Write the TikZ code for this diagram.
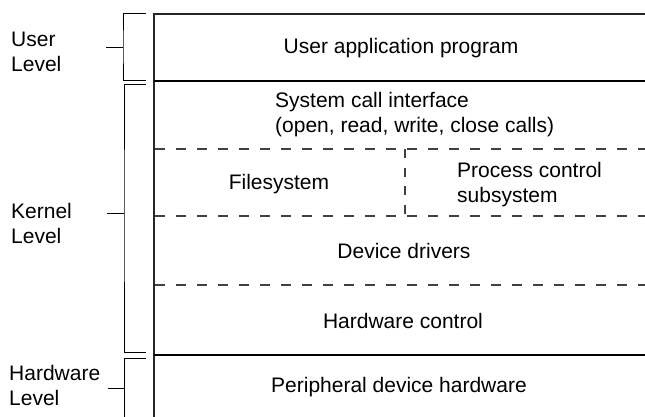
\documentclass[tikz,border=0pt]{standalone}
\usepackage{fontspec}
\setmainfont{Liberation Sans}
\begin{document}
\begin{tikzpicture}[x=1pt,y=-1pt,
  lbl/.style={font=\fontsize{21}{25}\selectfont, inner sep=0pt, align=center},
  lbll/.style={lbl, align=left},
  boxline/.style={line width=1.4pt, black!85},
  thickline/.style={line width=2pt, black},
  dashline/.style={line width=1.2pt, black!75, dash pattern=on 10pt off 11pt},
  vdashline/.style={line width=1.1pt, black!75, dash pattern=on 9pt off 9.5pt},
  bracket/.style={line width=1pt, black}]
\useasboundingbox (0,0) rectangle (645,416);
% frame coordinates
\coordinate (TL) at (154,14);  \coordinate (TR) at (650,14);
\coordinate (BL) at (154,420);
\coordinate (UL) at (154,81);  \coordinate (UR) at (650,81);
\coordinate (HL) at (154,355); \coordinate (HR) at (650,355);
\coordinate (D1L) at (155,149); \coordinate (D1R) at (650,149);
\coordinate (D2L) at (155,216); \coordinate (D2R) at (650,216);
\coordinate (D3L) at (155,285); \coordinate (D3R) at (650,285);
\coordinate (VT) at (405,149);  \coordinate (VB) at (405,216);
% frame
\draw[boxline] (TR) -- (TL) -- (BL);
\draw[thickline] (UL) -- (UR);
\draw[line width=1.7pt] (HL) -- (HR);
\draw[dashline] (D1L) -- (D1R);
\draw[dashline] (D2L) -- (D2R);
\draw[dashline] (D3L) -- (D3R);
\draw[vdashline] (VT) -- (VB);
% brackets
\coordinate (u1) at (146,13);  \coordinate (u2) at (146,80);
\coordinate (um) at (106,47);  \coordinate (uc) at (123,47);
\coordinate (k1) at (146,84);  \coordinate (k2) at (146,352);
\coordinate (km) at (107,213); \coordinate (kc) at (124,213);
\coordinate (h1) at (146,358); \coordinate (h2) at (124,420);
\coordinate (hm) at (108,388); \coordinate (hc) at (124,388);
\draw[bracket] (u1) -| (uc) |- (u2);
\draw[bracket] (um) -- (uc);
\draw[bracket] (k1) -| (kc) |- (k2);
\draw[bracket] (km) -- (kc);
\draw[bracket] (h1) -| (h2);
\draw[bracket] (hm) -- (hc);
% texts
\node[lbl] (app) at (401,48) {User application program};
\node[lbll, anchor=west] (sys) at (275,115) {System call interface\\(open, read, write, close calls)};
\node[lbl] (fs) at (279,184) {Filesystem};
\node[lbll, anchor=west] (pc) at (457,185) {Process control\\subsystem};
\node[lbl] (dd) at (404,251) {Device drivers};
\node[lbl] (hc) at (403,321) {Hardware control};
\node[lbl] (pd) at (399,387) {Peripheral device hardware};
\node[lbll, anchor=west] (ul) at (11,52) {User\\Level};
\node[lbll, anchor=west] (kl) at (11,223) {Kernel\\Level};
\node[lbll, anchor=west] (hl) at (9,385) {Hardware\\Level};
\end{tikzpicture}
\end{document}
